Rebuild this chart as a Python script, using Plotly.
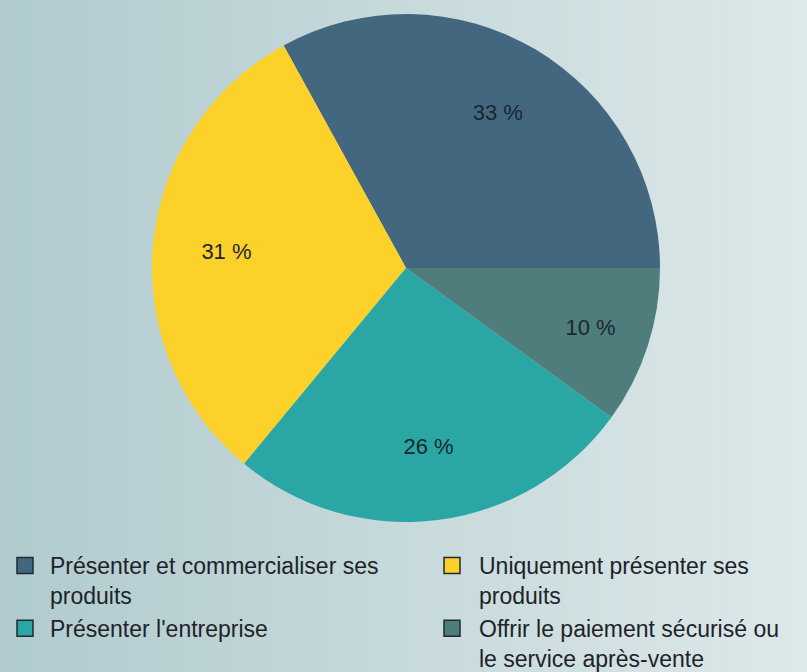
import plotly.graph_objects as go

labels = [
    "Présenter et commercialiser ses<br>produits",
    "Uniquement présenter ses<br>produits",
    "Présenter l'entreprise",
    "Offrir le paiement sécurisé ou<br>le service après-vente",
]
values = [33, 31, 26, 10]
colors = ["#43677f", "#fcd12a", "#2aa7a5", "#4e7d7c"]
legend_ids = ["legend", "legend2", "legend", "legend2"]

W, H = 807, 672
FONT = "Liberation Sans, Arial, sans-serif"
fig = go.Figure()

# background gradient (decoration)
left_rgb = (176, 203, 206)
right_rgb = (221, 232, 233)
N = 90
shapes = []
for i in range(N):
    t = i / (N - 1)
    c = tuple(round(left_rgb[k] + (right_rgb[k] - left_rgb[k]) * t) for k in range(3))
    shapes.append(dict(type="rect", xref="paper", yref="paper",
                       x0=i / N, x1=(i + 1) / N + 0.002, y0=0, y1=1,
                       fillcolor="rgb(%d,%d,%d)" % c, line=dict(width=0), layer="below"))

dom = dict(x=[152 / W, 660 / W], y=[1 - 522 / H, 1 - 14 / H])

fig.add_trace(go.Pie(
    labels=labels, values=values, sort=False,
    direction="counterclockwise", rotation=-28.8,
    marker=dict(colors=colors, line=dict(width=0)),
    textinfo="none", domain=dom,
    showlegend=False, hoverinfo="skip",
))
# transparent ring carrying the percentage labels
fig.add_trace(go.Pie(
    labels=labels, values=values, sort=False,
    direction="counterclockwise", rotation=-28.8, hole=0.42,
    marker=dict(colors=["rgba(0,0,0,0)"] * len(values), line=dict(width=0)),
    texttemplate="%{value} %", textposition="inside",
    insidetextorientation="horizontal",
    textfont=dict(family=FONT, size=22, color="#1c2630"),
    domain=dom, showlegend=False, hoverinfo="skip",
))

for lab, col, lg in zip(labels, colors, legend_ids):
    fig.add_trace(go.Scatter(
        x=[None], y=[None], mode="markers", name=lab, legend=lg,
        marker=dict(symbol="square", size=16, color=col,
                    line=dict(color="#222a30", width=1.5)),
    ))

leg_common = dict(
    orientation="v", xref="container", yref="container",
    yanchor="top", xanchor="left", y=1 - 544 / H,
    valign="top",
    font=dict(family=FONT, size=23, color="#1e2328"),
    bgcolor="rgba(0,0,0,0)", traceorder="normal", itemclick=False,
)

fig.update_layout(
    width=W, height=H,
    margin=dict(l=0, r=0, t=0, b=0, autoexpand=False),
    paper_bgcolor="#c6d9db", plot_bgcolor="rgba(0,0,0,0)",
    shapes=shapes,
    xaxis=dict(visible=False), yaxis=dict(visible=False),
    legend=dict(x=0, itemwidth=40, **leg_common),
    legend2=dict(x=425 / W, itemwidth=44, **leg_common),
)

fig.write_html("out.html", config={"displayModeBar": False},
               post_script="document.body.style.margin='0';")
